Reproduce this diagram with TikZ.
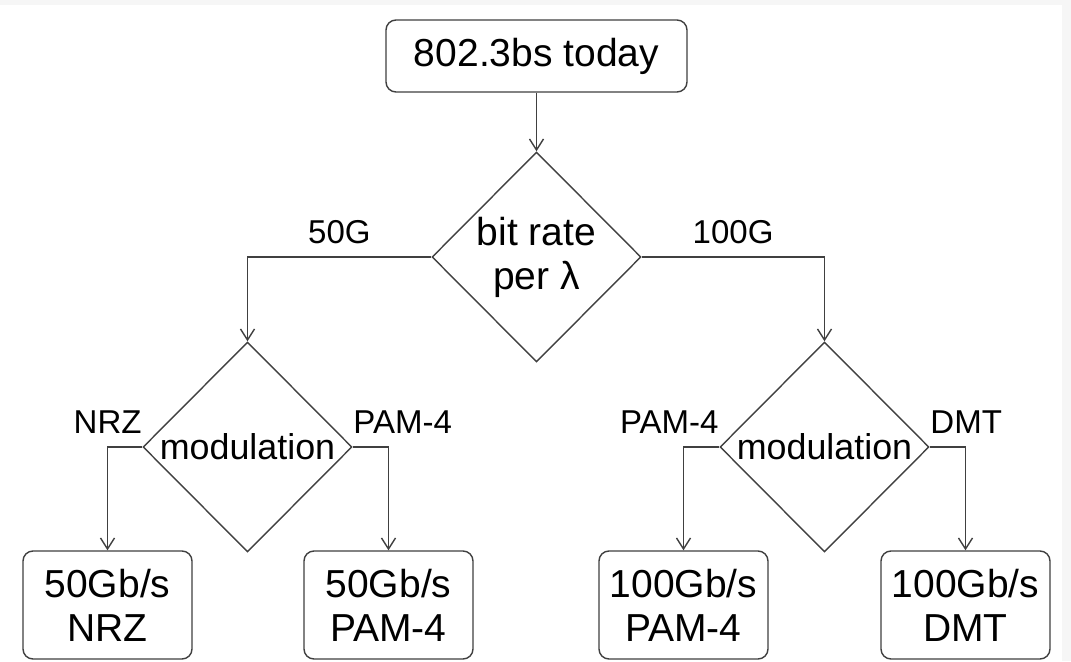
\documentclass[tikz,border=0pt]{standalone}
\usepackage{fontspec}
\setmainfont{Liberation Sans}
\usetikzlibrary{shapes.geometric}
\usetikzlibrary{arrows.meta}
\tikzset{arr/.style = {-{Straight Barb[length=1.1mm, width=1.4mm]}}}
\tikzset{box/.style = {draw, rounded corners = 1mm, align = center, inner sep = 0,
                       font = \fontsize{11.1}{12.5}\selectfont}}
\tikzset{result/.style = {box, minimum width = 1.69cm, minimum height = 1.08cm}}
\tikzset{choice/.style = {draw, diamond, inner sep = 0, align = center,
                          minimum width = 2.09cm, minimum height = 2.1cm,
                          font = \fontsize{11.1}{12.5}\selectfont}}
\tikzset{lbl/.style = {inner sep = 0, font = \fontsize{9.4}{11}\selectfont}}
\definecolor{mline}{rgb}{0.25, 0.25, 0.25}

\begin{document}
\begin{tikzpicture}[line width = 0.4pt, mline]
    \useasboundingbox (0, 0) rectangle (10.71, 6.61);
    \fill [gray!7] (0, 0) rectangle (10.71, 6.61);
    \fill [white] (0, 0) rectangle (10.62, 6.56);

    \node [box, text = black, minimum width = 3.01cm, minimum height = 0.72cm] (today) at (5.365, 6.05) {802.3bs today};
    \node [choice, text = black] (rate) at (5.365, 4.04) {bit rate\\per λ};
    \node [choice, text = black, font = \fontsize{10.2}{12}\selectfont] (modL) at (2.475, 2.14) {\makebox[0pt]{modulation}};
    \node [choice, text = black, font = \fontsize{10.2}{12}\selectfont] (modR) at (8.245, 2.14) {\makebox[0pt]{modulation}};

    \node [result, text = black] (nrz) at (1.075, 0.56) {50Gb/s\\NRZ};
    \node [result, text = black] (pamL) at (3.885, 0.56) {50Gb/s\\PAM-4};
    \node [result, text = black] (pamR) at (6.835, 0.56) {100Gb/s\\PAM-4};
    \node [result, text = black] (dmt) at (9.655, 0.56) {100Gb/s\\DMT};

    \draw [arr] (today) -- (rate);
    \draw [arr] (rate.west) -| node [lbl, text = black, pos = 0.25, anchor = base, yshift = 0.13cm] {50G} (modL.north);
    \draw [arr] (rate.east) -| node [lbl, text = black, pos = 0.25, anchor = base, yshift = 0.13cm] {100G} (modR.north);

    \draw [arr] (modL.west) node [lbl, text = black, anchor = base east, yshift = 0.13cm] {NRZ} -| (nrz.north);
    \draw [arr] (modL.east) node [lbl, text = black, anchor = base west, yshift = 0.13cm] {PAM-4} -| (pamL.north);
    \draw [arr] (modR.west) node [lbl, text = black, anchor = base east, yshift = 0.13cm] {PAM-4} -| (pamR.north);
    \draw [arr] (modR.east) node [lbl, text = black, anchor = base west, yshift = 0.13cm] {DMT} -| (dmt.north);
\end{tikzpicture}
\end{document}
